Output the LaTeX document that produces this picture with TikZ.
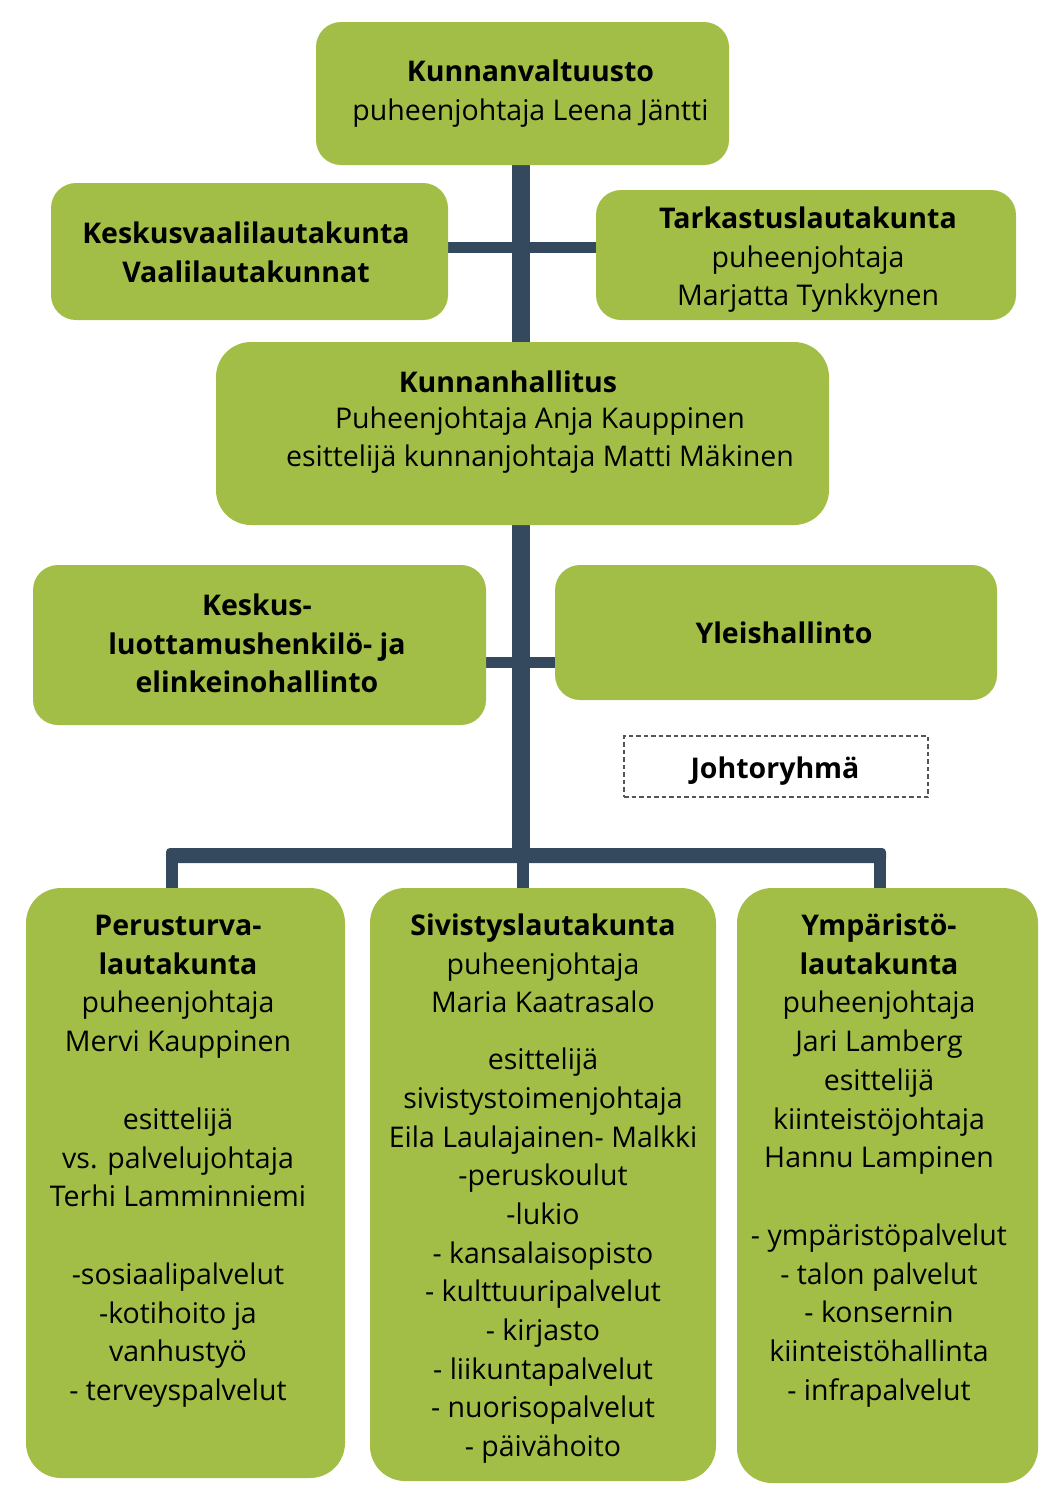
\documentclass[tikz,border=0pt]{standalone}
\usepackage{fontspec}
\setmainfont{Open Sans}
\usetikzlibrary{backgrounds}
\definecolor{boxgreen}{HTML}{A3BE46}
\definecolor{slate}{HTML}{34495E}
\definecolor{dashgray}{HTML}{555555}
\newcommand\myfs{\fontsize{28.5}{38.7}\selectfont}
\tikzset{
  box/.style={draw=none, fill=boxgreen, rounded corners=25pt, inner sep=0pt, outer sep=0pt},
  bigbox/.style={box, rounded corners=35pt},
  dashbox/.style={draw=dashgray, line width=1.1pt, dash pattern=on 4.5pt off 3pt, fill=white, inner sep=0pt, outer sep=0pt},
  txt/.style={anchor=north, inner sep=0pt, outer sep=0pt, align=center, font=\myfs, text=black},
  trunkline/.style={draw=slate, line width=18pt},
  armline/.style={draw=slate, line width=11pt},
  busbar/.style={fill=slate, rounded corners=4pt},
  dropline/.style={draw=slate, line width=12pt},
}
\begin{document}
\begin{tikzpicture}[x=1pt,y=-1pt]
\useasboundingbox (0,0) rectangle (1061,1500);
% boxes
\node[box, minimum width=413pt, minimum height=143pt] (kv) at (522.5,93.5) {};
\node[box, minimum width=397pt, minimum height=137pt] (kvl) at (249.5,251.5) {};
\node[box, minimum width=420pt, minimum height=130pt] (tl) at (806,255) {};
\node[bigbox, minimum width=613pt, minimum height=183pt] (kh) at (522.5,433.5) {};
\node[box, minimum width=453pt, minimum height=160pt] (klh) at (259.5,645) {};
\node[box, minimum width=442pt, minimum height=135pt] (yh) at (776,632.5) {};
\node[dashbox, minimum width=304pt, minimum height=61pt] (jr) at (776,766.5) {};
\node[bigbox, minimum width=319pt, minimum height=590pt] (pt) at (185.5,1183) {};
\node[bigbox, minimum width=346pt, minimum height=593pt] (sv) at (543,1184.5) {};
\node[bigbox, minimum width=301pt, minimum height=595pt] (yl) at (887.5,1185.5) {};
% connector coordinates
\coordinate (cross1) at (521,247);
\coordinate (cross2) at (521,662);
\coordinate (bus) at (521,855.5);
\coordinate (dropL) at (172,855.5);
\coordinate (dropM) at (523,855.5);
\coordinate (dropR) at (879.5,855.5);
\begin{scope}[on background layer]
\draw[trunkline] (kv.south -| bus) -- (bus);
\draw[armline] (kvl.east |- cross1) -- (tl.west |- cross1);
\draw[armline] (klh.east |- cross2) -- (yh.west |- cross2);
\fill[busbar] ([xshift=-6pt,yshift=7.5pt]dropL) rectangle ([xshift=6.5pt,yshift=-7.5pt]dropR);
\draw[dropline] (dropL) -- (pt.north -| dropL);
\draw[dropline] (dropM) -- (sv.north -| dropM);
\draw[dropline] (dropR) -- (yl.north -| dropR);
\end{scope}
% texts
\node[txt] (kv-t) at (530.5,54.4) {\strut\textbf{Kunnanvaltuusto}\\puheenjohtaja Leena Jäntti};
\node[txt] (kvl-t) at (246,216.4) {\strut\textbf{Keskusvaalilautakunta}\\\textbf{Vaalilautakunnat}};
\node[txt] (tl-t) at (808,201.4) {\strut\textbf{Tarkastuslautakunta}\\puheenjohtaja\\Marjatta Tynkkynen};
\node[txt] (kh-t) at (540,365.4) {\strut\textbf{Kunnanhallitus}\hspace*{64pt}\\[-3pt]Puheenjohtaja Anja Kauppinen\\esittelijä kunnanjohtaja Matti Mäkinen};
\node[txt] (klh-t) at (257,588.4) {\strut\textbf{Keskus-}\\\textbf{luottamushenkilö- ja}\\\textbf{elinkeinohallinto}};
\node[txt] (yh-t) at (784,616.4) {\strut\textbf{Yleishallinto}};
\node[txt] (jr-t) at (775,751.4) {\strut\textbf{Johtoryhmä}};
\node[txt] (pt-t) at (178,908.4) {\strut\textbf{Perusturva-}\\\textbf{lautakunta}\\puheenjohtaja\\Mervi Kauppinen\\[39pt]esittelijä\\vs. palvelujohtaja\\Terhi Lamminniemi\\[39pt]-sosiaalipalvelut\\-kotihoito ja\\vanhustyö\\- terveyspalvelut};
\node[txt] (sv-t) at (543,908.4) {\strut\textbf{Sivistyslautakunta}\\puheenjohtaja\\Maria Kaatrasalo\\[18pt]esittelijä\\sivistystoimenjohtaja\\Eila Laulajainen- Malkki\\-peruskoulut\\-lukio\\- kansalaisopisto\\- kulttuuripalvelut\\- kirjasto\\- liikuntapalvelut\\- nuorisopalvelut\\- päivähoito};
\node[txt] (yl-t) at (879,908.4) {\strut\textbf{Ympäristö-}\\\textbf{lautakunta}\\puheenjohtaja\\Jari Lamberg\\esittelijä\\kiinteistöjohtaja\\Hannu Lampinen\\[39pt]- ympäristöpalvelut\\- talon palvelut\\- konsernin\\kiinteistöhallinta\\- infrapalvelut};
\end{tikzpicture}
\end{document}
